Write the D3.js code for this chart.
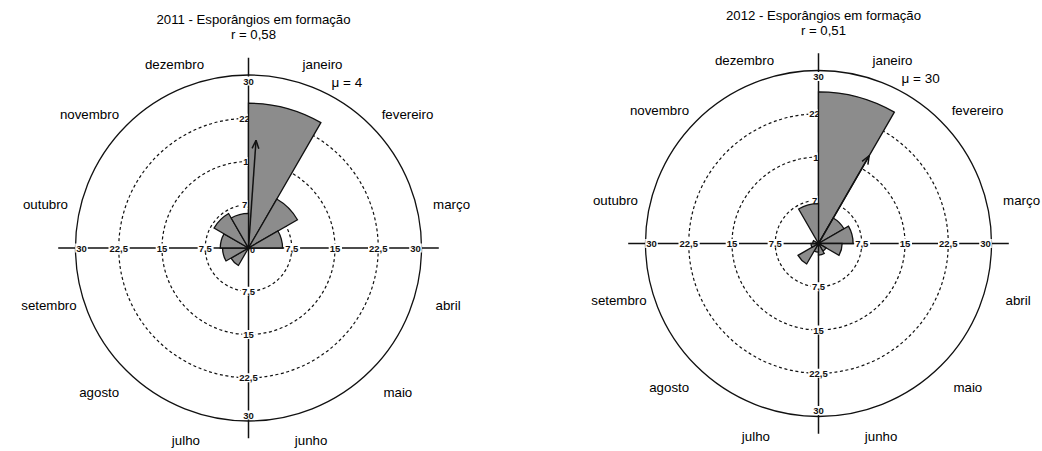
<!DOCTYPE html>
<html>
<head>
<meta charset="utf-8">
<script src="https://cdn.jsdelivr.net/npm/d3@7"></script>
<style>
  html, body { margin: 0; padding: 0; background: #fff; }
  svg { display: block; font-family: "Liberation Sans", Arial, sans-serif; }
</style>
</head>
<body>
<svg id="chart" width="1042" height="451"></svg>
<script>
// Monthly counts of sporangia in formation (rose diagrams, one per year)
const months = ["janeiro", "fevereiro", "março", "abril", "maio", "junho",
                "julho", "agosto", "setembro", "outubro", "novembro", "dezembro"];
const values2011 = [25.1, 9.8, 5.9, 0, 0, 0, 0, 3.5, 4.5, 4.9, 6.9, 6.0];
const values2012 = [26.3, 5.1, 6.0, 4.1, 1.5, 2.0, 1.5, 4.1, 1.3, 1.0, 0, 6.9];
const years = ["2011", "2012"];
const meanLength = [0.58, 0.51];   // r
const meanAngle = [4, 30];         // μ, degrees
const tickValues = [7.5, 15, 22.5, 30];
const tickLabels = ["7,5", "15", "22,5", "30"];

const svg = d3.select("#chart");
const R = 173;
const rScale = d3.scaleLinear().domain([0, 30]).range([0, R]);
const arrowScale = d3.scaleSqrt().domain([0, 1]).range([0, R * 0.82]);
const seg = 2 * Math.PI / months.length;
const rad = d => d * Math.PI / 180;

function rose(cx, cy, year, values, r, mu) {
  const g = svg.append("g").attr("transform", `translate(${cx},${cy})`);

  // title
  const title = g.append("text").attr("x", 5).attr("y", -224)
    .attr("text-anchor", "middle").attr("font-size", 13.2).attr("fill", "#000");
  title.append("tspan").attr("x", 5).text(`${year} - Esporângios em formação`);
  title.append("tspan").attr("x", 5).attr("dy", 15).text(`r = ${String(r).replace(".", ",")}`);

  // concentric grid
  g.selectAll("circle.grid").data(tickValues).join("circle")
    .attr("r", d => rScale(d)).attr("fill", "none").attr("stroke", "#111")
    .attr("stroke-width", d => d === 30 ? 1.3 : 1.2)
    .attr("stroke-dasharray", d => d === 30 ? null : "3,2.6");

  // cross axes
  const ext = R * 1.1;
  g.append("line").attr("x1", -ext).attr("x2", ext).attr("y1", 0).attr("y2", 0)
    .attr("stroke", "#111").attr("stroke-width", 1.5);
  g.append("line").attr("x1", 0).attr("x2", 0).attr("y1", -ext).attr("y2", ext)
    .attr("stroke", "#111").attr("stroke-width", 1.5);

  // tick labels along the four half-axes
  const dirs = [[1, 0], [-1, 0], [0, 1], [0, -1]];
  const ticks = [];
  dirs.forEach(([dx, dy]) => tickValues.forEach((v, i) => {
    const p = Math.min(rScale(v), R - 6);
    ticks.push({x: dx * p, y: dy * p, label: tickLabels[i]});
  }));
  const tg = g.append("g");
  ticks.forEach(t => {
    const tt = tg.append("g");
    const txt = tt.append("text").attr("x", t.x).attr("y", t.y)
      .attr("text-anchor", "middle").attr("dominant-baseline", "central")
      .attr("font-size", 9.5).attr("font-weight", "bold").attr("fill", "#111")
      .text(t.label);
    const b = txt.node().getBBox();
    tt.insert("rect", "text").attr("x", b.x - 1).attr("y", b.y + 1)
      .attr("width", b.width + 2).attr("height", b.height - 2).attr("fill", "#fff");
  });
  g.append("text").attr("x", 4).attr("y", 2).attr("text-anchor", "middle")
    .attr("dominant-baseline", "central").attr("font-size", 9).attr("font-weight", "bold")
    .attr("fill", "#111").text("0");

  // month wedges
  const arc = d3.arc().innerRadius(0)
    .outerRadius(d => rScale(d.v))
    .startAngle(d => d.i * seg).endAngle(d => (d.i + 1) * seg);
  g.selectAll("path.bar").data(values.map((v, i) => ({v, i})).filter(d => d.v > 0)).join("path")
    .attr("d", arc).attr("fill", "#8c8c8c").attr("stroke", "#111").attr("stroke-width", 1.3)
    .attr("stroke-linejoin", "miter");

  // month labels
  months.forEach((m, i) => {
    const k = i < 6 ? i : 11 - i;
    const a = rad(22 + 28 * k) * (i < 6 ? 1 : -1);
    const lr = R * 1.2 - (k === 0 ? 10 : k === 5 ? 5 : 0);
    g.append("text").attr("x", lr * Math.sin(a)).attr("y", -lr * Math.cos(a))
      .attr("text-anchor", "middle").attr("dominant-baseline", "central")
      .attr("font-size", 13.3).attr("fill", "#000").text(m);
  });

  // mean direction arrow
  const a = rad(mu), L = arrowScale(r);
  const tx = L * Math.sin(a), ty = -L * Math.cos(a);
  const head = 9, spread = rad(22);
  g.append("line").attr("x1", 0).attr("y1", 0).attr("x2", tx).attr("y2", ty)
    .attr("stroke", "#111").attr("stroke-width", 1.5);
  [a + Math.PI - spread, a + Math.PI + spread].forEach(h => {
    g.append("line").attr("x1", tx).attr("y1", ty)
      .attr("x2", tx + head * Math.sin(h)).attr("y2", ty - head * Math.cos(h))
      .attr("stroke", "#111").attr("stroke-width", 1.5);
  });
  g.append("text").attr("x", 83).attr("y", -161).attr("font-size", 13.5)
    .attr("fill", "#000").text(`μ = ${mu}`);
}

rose(248.5, 248, years[0], values2011, meanLength[0], meanAngle[0]);
rose(818.5, 243.5, years[1], values2012, meanLength[1], meanAngle[1]);
</script>
</body>
</html>
